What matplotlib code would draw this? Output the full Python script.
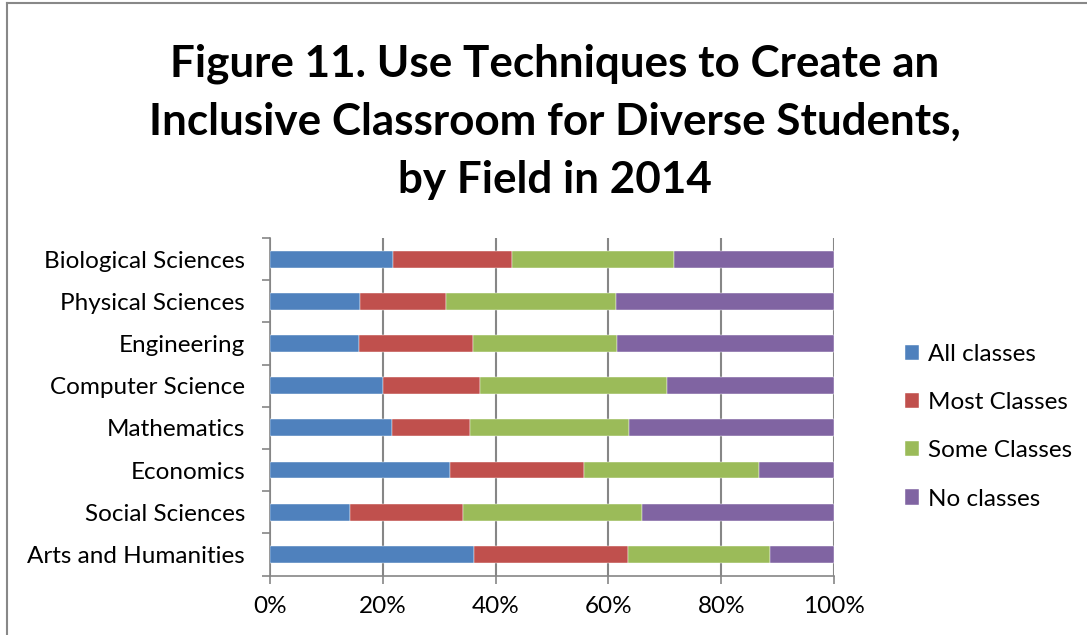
import matplotlib.pyplot as plt
import numpy as np
from matplotlib.lines import Line2D
from matplotlib.ticker import FixedLocator, PercentFormatter

plt.rcParams["font.family"] = ["Lato", "DejaVu Sans"]

# fields, listed bottom to top as they sit on the axis
fields = [
    "Arts and Humanities",
    "Social Sciences",
    "Economics",
    "Mathematics",
    "Computer Science",
    "Engineering",
    "Physical Sciences",
    "Biological Sciences",
]

# share of respondents (%) per answer
all_classes = [36.1, 14.1, 31.9, 21.6, 20.0, 15.8, 16.0, 21.8]
most_classes = [27.3, 20.1, 23.8, 13.9, 17.3, 20.2, 15.2, 21.1]
some_classes = [25.2, 31.7, 31.0, 28.2, 33.0, 25.5, 30.1, 28.8]
no_classes = [11.4, 34.1, 13.3, 36.3, 29.7, 38.5, 38.7, 28.3]

series = [
    ("All classes", all_classes, "#4F81BD"),
    ("Most Classes", most_classes, "#C0504D"),
    ("Some Classes", some_classes, "#9BBB59"),
    ("No classes", no_classes, "#8064A2"),
]

fig = plt.figure(figsize=(10.87, 6.35), dpi=100)
ax = fig.add_axes([0.2484, 0.0937, 0.5189, 0.5315])

y = np.arange(len(fields))
left = np.zeros(len(fields))
handles = []
for name, vals, color in series:
    vals = np.array(vals)
    bars = ax.barh(y, vals, left=left, height=0.4, color=color,
                   edgecolor="white", linewidth=0.3, label=name, zorder=3)
    handles.append(bars)
    left += vals

ax.set_xlim(0, 100)
ax.set_ylim(-0.5, len(fields) - 0.5)
ax.set_xticks(np.arange(0, 101, 20))
ax.xaxis.set_major_formatter(PercentFormatter(decimals=0))
ax.grid(axis="x", color="#868686", linewidth=1.5, zorder=0)

ax.set_yticks(y)
ax.set_yticklabels(fields)
ax.yaxis.set_minor_locator(FixedLocator(np.arange(-0.5, len(fields), 1)))
ax.tick_params(axis="y", which="major", length=0, pad=18, labelsize=17.5)
ax.tick_params(axis="y", which="minor", length=6, width=1.2, color="#868686")
ax.tick_params(axis="x", length=6, width=1.2, color="#868686", pad=9,
               labelsize=17.5)

for side in ["top", "right"]:
    ax.spines[side].set_visible(False)
for side in ["left", "bottom"]:
    ax.spines[side].set_color("#868686")
    ax.spines[side].set_linewidth(1.2)

fig.legend(handles=handles, loc="center left",
           bbox_to_anchor=(0.8216, 0.328), frameon=False, fontsize=17.5,
           handlelength=0.58, handleheight=0.58, handletextpad=0.35,
           labelspacing=1.12, borderpad=0)

fig.text(0.5106, 0.808,
         "Figure 11. Use Techniques to Create an\n"
         "Inclusive Classroom for Diverse Students,\n"
         "by Field in 2014",
         ha="center", va="center", fontsize=31.7, fontweight="bold",
         linespacing=1.54)

# chart frame (left and top edges)
fig.add_artist(Line2D([0.0064, 0.0064], [0, 0.9953], color="#888888",
                      linewidth=1.5, transform=fig.transFigure))
fig.add_artist(Line2D([0.0064, 1], [0.9953, 0.9953], color="#888888",
                      linewidth=1.5, transform=fig.transFigure))

fig.savefig("out.png", dpi=100)
